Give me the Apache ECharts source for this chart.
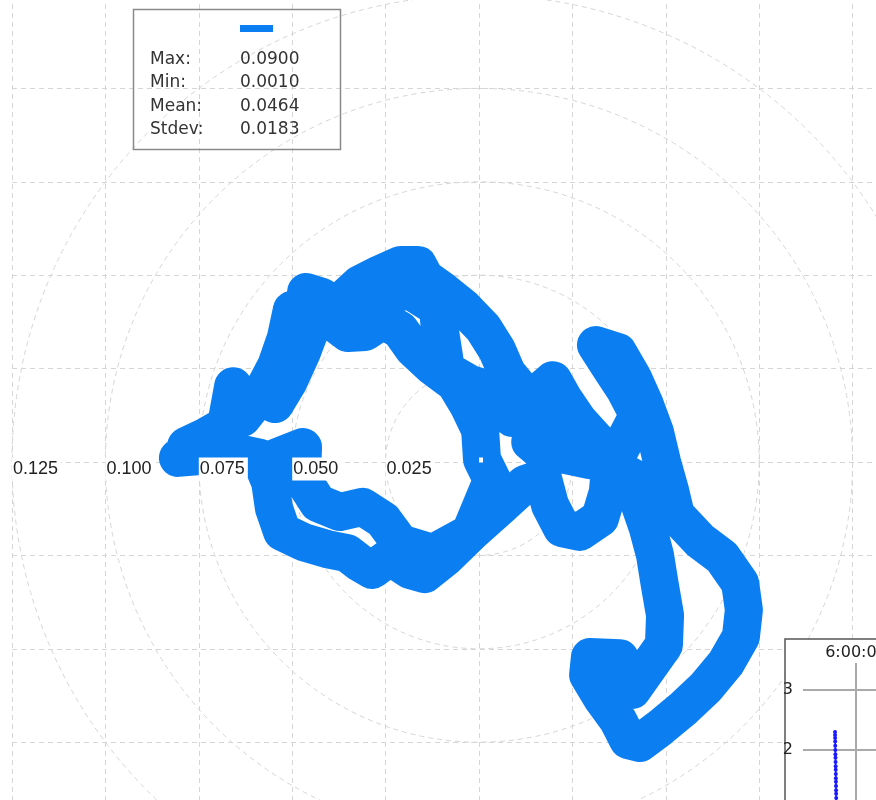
<!DOCTYPE html>
<html>
<head>
<meta charset="utf-8">
<script src="https://cdn.jsdelivr.net/npm/echarts@6/dist/echarts.min.js"></script>
<style>
  html, body { margin: 0; padding: 0; background: #ffffff; }
  #chart { width: 876px; height: 800px; }
</style>
</head>
<body>
<div id="chart"></div>
<script>
// Probe position trace: horizontal and vertical components
const traceX = [
  -0.0806, -0.0747, -0.0661, -0.0586, -0.0559, -0.0549, -0.0527, -0.0471, -0.0407, -0.0353,
  -0.0319, -0.0286, -0.0238, -0.0185, -0.0145, -0.0088, -0.0019, 0.0056, 0.0123, 0.0171,
  0.0190, 0.0222, 0.0270, 0.0324, 0.0345, 0.0351, 0.0313, 0.0265, 0.0225, 0.0198,
  0.0155, 0.0112, 0.0075, 0.0048, 0.0011, -0.0040, -0.0099, -0.0145, -0.0163, -0.0211,
  -0.0265, -0.0319, -0.0359, -0.0380, -0.0420, -0.0463,
  -0.0442, -0.0474, -0.0509, -0.0546,
  -0.0501, -0.0517, -0.0543, -0.0581,
  -0.0634, -0.0656, -0.0658, -0.0677, -0.0733, -0.0784, -0.0666, -0.0573, -0.0471, -0.0474,
  -0.0431, -0.0372, -0.0311, -0.0257, -0.0211, -0.0123, -0.0024, 0.0035, 0.0008,
  0.0003, -0.0029, -0.0064,
  -0.0126, -0.0177, -0.0211, -0.0257, -0.0305, -0.0351, -0.0391, -0.0340,
  -0.0265, -0.0185, -0.0110, -0.0104, -0.0088, -0.0024, 0.0043, 0.0088,
  0.0150, 0.0190,
  0.0137, 0.0163, 0.0230, 0.0297, 0.0377, 0.0426, 0.0391, 0.0351, 0.0313, 0.0372, 0.0412, 0.0444,
  0.0471, 0.0490, 0.0511, 0.0527, 0.0592, 0.0650, 0.0699, 0.0709, 0.0701, 0.0661,
  0.0608, 0.0549, 0.0484, 0.0431, 0.0399, 0.0372, 0.0329, 0.0292, 0.0297, 0.0377,
  0.0337,
  0.0410, 0.0452, 0.0495, 0.0498, 0.0484, 0.0471, 0.0452, 0.0426, 0.0399, 0.0458
];
const traceY = [
  0.0011, 0.0016, 0.0027, 0.0011, -0.0054, -0.0123, -0.0187, -0.0214, -0.0233, -0.0244,
  -0.0270, -0.0289, -0.0254, -0.0289, -0.0300, -0.0254, -0.0187, -0.0120, -0.0059, -0.0043,
  -0.0115, -0.0177, -0.0187, -0.0150, -0.0080, -0.0008, 0.0059, 0.0112, 0.0171, 0.0219,
  0.0182, 0.0193, 0.0238, 0.0300, 0.0359, 0.0412, 0.0460, 0.0493, 0.0527, 0.0527,
  0.0503, 0.0476, 0.0439, 0.0402, 0.0442, 0.0455,
  0.0380, 0.0294, 0.0217, 0.0155,
  0.0407, 0.0332, 0.0257, 0.0185,
  0.0118, 0.0166, 0.0203, 0.0099, 0.0067, 0.0043, 0.0016, 0.0000, 0.0040, -0.0043,
  -0.0110, -0.0134, -0.0120, -0.0155, -0.0217, -0.0244, -0.0190, -0.0048, 0.0007,
  0.0086, 0.0153, 0.0211,
  0.0257, 0.0305, 0.0353, 0.0380, 0.0348, 0.0345, 0.0375, 0.0418,
  0.0444, 0.0460, 0.0412, 0.0348, 0.0246, 0.0209, 0.0187, 0.0118,
  0.0126, 0.0091,
  0.0054, 0.0032, 0.0019, 0.0005, 0.0032, 0.0126, 0.0193, 0.0254, 0.0313, 0.0294, 0.0225, 0.0153,
  0.0080, 0.0000, -0.0075, -0.0142, -0.0211, -0.0254, -0.0324, -0.0396, -0.0468, -0.0538,
  -0.0602, -0.0658, -0.0712, -0.0752, -0.0744, -0.0691, -0.0632, -0.0570, -0.0522, -0.0525,
  -0.0578,
  -0.0610, -0.0551, -0.0490, -0.0410, -0.0329, -0.0249, -0.0177, -0.0102, -0.0035, -0.0067
];

// Summary statistics shown in the legend box
const statNames = ['Max:', 'Min:', 'Mean:', 'Stdev:'];
const statValues = ['0.0900', '0.0010', '0.0464', '0.0183'];

// Ring spacing and outer ring of the polar grid
const ringStep = 0.025;
const ringMax = 0.125;

// Trend panel: time of day (hours) and value
const trendHours = [5.9010, 5.9012, 5.9015, 5.9018, 5.9021, 5.9025, 5.9028, 5.9032, 5.9036, 5.9040,
                    5.9043, 5.9047, 5.9050, 5.9053, 5.9057, 5.9060, 5.9063, 5.9066, 5.9070, 5.9073];
const trendValues = [2.30, 2.25, 2.20, 2.14, 2.07, 2.00, 1.93, 1.87, 1.80, 1.73,
                     1.67, 1.60, 1.53, 1.47, 1.40, 1.33, 1.27, 1.20, 1.13, 1.07];

const seriesName = 'Position';
const traceColor = '#0b7ff2';
const dashStyle = { color: '#d6d6d6', width: 1, type: [5, 4] };

// Plot geometry: centre of the polar grid and pixels for the outer ring
const cx = 479, cy = 462, outerR = 467;

const traceData = traceX.map((x, i) => [x, traceY[i]]);
const trendData = trendHours.map((h, i) => [h, trendValues[i]]);

function hoursLabel(v) {
  const totalSec = Math.round(v * 3600);
  const h = Math.floor(totalSec / 3600);
  const m = Math.floor((totalSec % 3600) / 60);
  const s = totalSec % 60;
  return h + ':' + String(m).padStart(2, '0') + ':' + String(s).padStart(2, '0');
}

const statGraphics = [];
statNames.forEach((name, i) => {
  const y = 61 + i * 23.3;
  statGraphics.push({
    type: 'text', left: 150, top: y - 10, z: 6,
    style: { text: name, fill: '#333', font: '17px "DejaVu Sans"' }
  });
  statGraphics.push({
    type: 'text', left: 240, top: y - 10, z: 6,
    style: { text: statValues[i], fill: '#333', font: '17px "DejaVu Sans"' }
  });
});

const chart = echarts.init(document.getElementById('chart'), null, { renderer: 'canvas' });

chart.setOption({
  animation: false,
  backgroundColor: '#ffffff',
  legend: {
    data: [seriesName],
    left: 240, top: 25,
    itemWidth: 33, itemHeight: 7,
    icon: 'rect',
    padding: 0,
    selectedMode: false,
    formatter: () => '',
    textStyle: { fontSize: 1 },
    z: 6
  },
  grid: [
    { left: cx - outerR, top: cy - outerR, width: outerR * 2, height: outerR * 2, outerBoundsMode: 'none' },
    { left: 803, top: 663, width: 159, height: 207, outerBoundsMode: 'none' }
  ],
  xAxis: [
    {
      gridIndex: 0, type: 'value', min: -ringMax, max: ringMax, interval: ringStep,
      axisLine: { show: false }, axisTick: { show: false }, axisLabel: { show: false },
      splitLine: { show: true, lineStyle: dashStyle }, z: 0
    },
    {
      gridIndex: 1, type: 'value', position: 'top', min: 5.75, max: 6.5, interval: 0.25,
      axisLine: { show: false }, axisTick: { show: false },
      axisLabel: {
        formatter: hoursLabel, showMinLabel: false, margin: 2,
        color: '#222', fontSize: 16, fontFamily: 'DejaVu Sans'
      },
      splitLine: { show: true, showMinLine: false, lineStyle: { color: '#aaaaaa', width: 2 } },
      z: 7
    }
  ],
  yAxis: [
    {
      gridIndex: 0, type: 'value', min: -ringMax, max: ringMax, interval: ringStep,
      axisLine: { show: false }, axisTick: { show: false }, axisLabel: { show: false },
      splitLine: { show: true, lineStyle: dashStyle }, z: 0
    },
    {
      gridIndex: 1, type: 'value', min: 0, max: 3.45, interval: 1,
      axisLine: { show: false }, axisTick: { show: false },
      axisLabel: {
        showMaxLabel: false, margin: 10,
        color: '#222', fontSize: 16, fontFamily: 'DejaVu Sans'
      },
      splitLine: { show: true, showMaxLine: false, lineStyle: { color: '#aaaaaa', width: 2 } },
      z: 7
    }
  ],
  polar: [
    { center: [cx, cy], radius: outerR },
    { center: [cx, cy], radius: outerR }
  ],
  angleAxis: [
    {
      polarIndex: 0, type: 'value', min: 0, max: 360, startAngle: 180,
      axisLine: { show: false }, axisTick: { show: false }, axisLabel: { show: false },
      splitLine: { show: false }
    },
    {
      polarIndex: 1, type: 'value', min: 0, max: 360, startAngle: 180,
      axisLine: { show: false }, axisTick: { show: false }, axisLabel: { show: false },
      splitLine: { show: false }
    }
  ],
  radiusAxis: [
    {
      polarIndex: 0, type: 'value', min: 0, max: ringMax, interval: ringStep,
      axisLine: { show: false }, axisTick: { show: false }, axisLabel: { show: false },
      splitLine: { show: true, lineStyle: dashStyle }, z: 0
    },
    {
      polarIndex: 1, type: 'value', min: 0, max: ringMax, interval: ringStep,
      axisLine: { show: false }, axisTick: { show: false }, splitLine: { show: false },
      axisLabel: {
        show: true, margin: -4.5, align: 'left', verticalAlign: 'top',
        formatter: v => (v === 0 ? '' : v.toFixed(3)),
        color: '#222', fontSize: 18, fontFamily: 'Liberation Sans',
        backgroundColor: '#ffffff', padding: [3, 3, 2, 1]
      },
      z: 5
    }
  ],
  graphic: [
    {
      type: 'rect', z: 6,
      shape: { x: 133.5, y: 9.5, width: 207, height: 140 },
      style: { fill: null, stroke: '#8a8a8a', lineWidth: 1.5 }
    },
    ...statGraphics,
    {
      type: 'rect', z: 6,
      shape: { x: 785, y: 639, width: 200, height: 300 },
      style: { fill: '#ffffff', stroke: '#555555', lineWidth: 1.5 }
    }
  ],
  series: [
    {
      name: seriesName,
      type: 'line',
      xAxisIndex: 0, yAxisIndex: 0,
      data: traceData,
      showSymbol: false, symbol: 'none',
      smooth: false,
      color: traceColor,
      lineStyle: { color: traceColor, width: 38, cap: 'round', join: 'round' },
      z: 2
    },
    {
      name: 'Trend',
      type: 'line',
      xAxisIndex: 1, yAxisIndex: 1,
      data: trendData,
      symbol: 'circle', symbolSize: 4,
      color: '#1a1aff',
      lineStyle: { color: '#1a1aff', width: 1.5 },
      itemStyle: { color: '#1a1aff' },
      z: 8
    }
  ]
});
</script>
</body>
</html>
